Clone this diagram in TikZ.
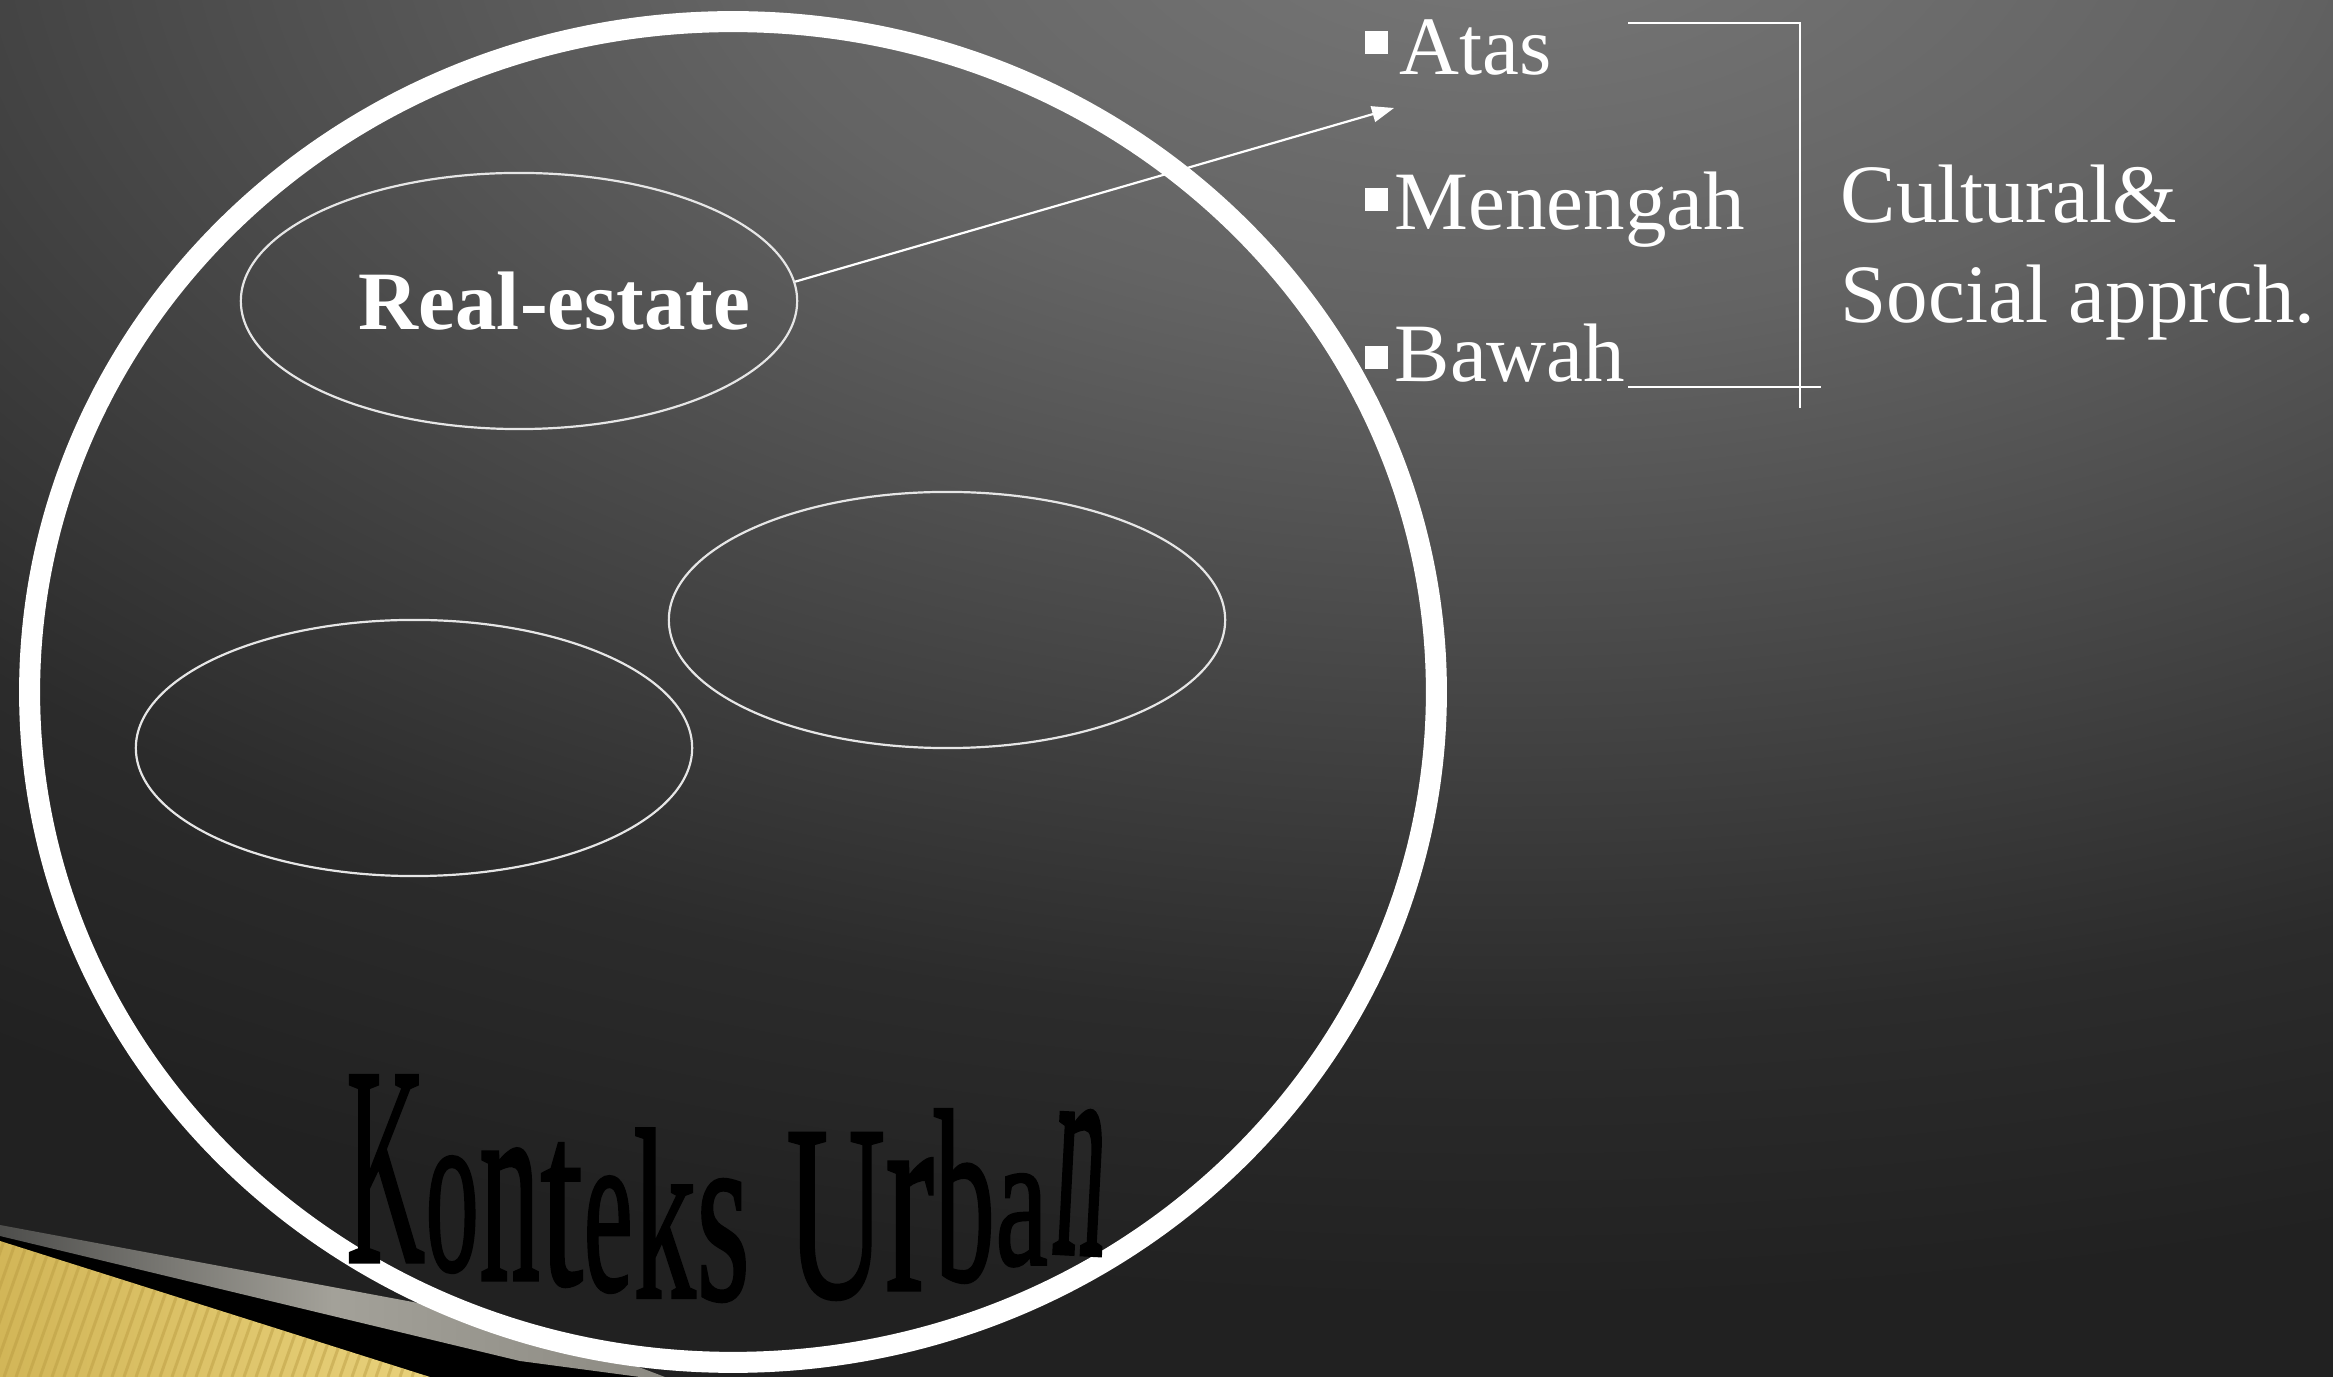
\documentclass[tikz,border=0pt]{standalone}
\usepackage{fontspec}
\setmainfont{Liberation Serif}
\newfontface\warpfont[FakeBold=1.6]{Liberation Serif}
\usepackage{graphicx}
\usetikzlibrary{shapes.geometric,arrows.meta}
\pgfdeclareradialshading{bgsh}{\pgfpointorigin}{rgb(0bp)=(.47,.47,.47); rgb(7.5bp)=(.39,.39,.39); rgb(20bp)=(.17,.17,.17); rgb(25bp)=(.13,.13,.13); rgb(50bp)=(.13,.13,.13)}
\definecolor{bgout}{gray}{0.13}
\definecolor{goldA}{HTML}{D2B658}
\definecolor{goldB}{HTML}{E9D27C}
\definecolor{goldS}{HTML}{B89A40}
\definecolor{silA}{HTML}{4E4E4C}
\definecolor{silB}{HTML}{A3A199}
\definecolor{silC}{HTML}{8C8A82}
\definecolor{ellc}{HTML}{E6E6E6}
\begin{document}
\begin{tikzpicture}[x=0.01cm,y=-0.01cm,
  txt/.style={text=white, inner sep=0, font=\fontsize{23.6}{28}\selectfont},
  oval/.style={ellipse, draw=ellc, line width=0.022cm, inner sep=0, minimum width=5.56cm, minimum height=2.56cm},
  ring/.style={ellipse, draw=white, line width=0.21cm, inner sep=0, minimum width=14.06cm, minimum height=13.4cm},
  bulletbox/.style={fill=white, inner sep=0, minimum size=0.23cm},
  thinw/.style={draw=white, line width=0.022cm},
  arr/.style={draw=white, line width=0.022cm, -{Triangle[length=0.22cm,width=0.16cm]}},
  wl/.style={inner sep=0, anchor=south west, text=black, font=\fontsize{20}{20}\warpfont}]
\useasboundingbox (0,0) rectangle (2333,1377);
% background
\begin{scope}
\clip (0,0) rectangle (2333,1377);
\fill[bgout] (0,0) rectangle (2333,1377);
\shade[shading=bgsh] (1500,-100) ellipse [x radius=2600, y radius=1400];
% bottom-left decoration
\fill[black] (0,1232) -- (665,1377) -- (0,1377) -- cycle;
\begin{scope}
\clip (0,1241) -- (430,1377) -- (0,1377) -- cycle;
\shade[left color=goldA, right color=goldB] (0,1230) rectangle (440,1377);
\foreach \i in {-200,-188,...,460} \draw[goldS, line width=0.03cm, opacity=0.45] (\i,1377) -- ++(60,-170);
\end{scope}
\shade[left color=silA, right color=silC, middle color=silB] (0,1225) -- (520,1322) -- (665,1377) -- (640,1377) -- (520,1361) -- (0,1236) -- cycle;
\end{scope}
% big ring
\node[ring] (ctx) at (733,692) {};
% ovals
\node[oval] (e1) at (519,301) {};
\node[oval] (e2) at (947,620) {};
\node[oval] (e3) at (414,748) {};
\node[txt, font=\fontsize{23.6}{28}\selectfont\bfseries, anchor=base west] (re) at (358,330) {Real-estate};
% arrow
\coordinate (tip) at (1394,108);
\draw[arr] (e1.4) -- (tip);
% bullets and list
\node[bulletbox] (b1) at (1376,43) {};
\node[bulletbox] (b2) at (1376,200) {};
\node[bulletbox] (b3) at (1376,358) {};
\node[txt, anchor=base west] (atas) at (1399,75) {Atas};
\node[txt, anchor=base west] (men) at (1394,230) {Menengah};
\node[txt, anchor=base west] (baw) at (1394,382) {Bawah};
% bracket
\coordinate (bt1) at (1628,23);
\coordinate (bt2) at (1800,23);
\coordinate (bv) at (1800,408);
\coordinate (bl1) at (1628,387);
\coordinate (bl2) at (1821,387);
\draw[thinw] (bt1) -- (bt2) -- (bv);
\draw[thinw] (bl1) -- (bl2);
\node[txt, anchor=base west] (cul) at (1840,223) {Cultural\&};
\node[txt, anchor=base west] (soc) at (1840,323) {Social apprch.};
% warped title
\node[wl] (k1) at (346,1262) {\resizebox{0.78cm}{1.85cm}{K}};
\node[wl] (k2) at (425,1273) {\resizebox{0.53cm}{1.13cm}{o}};
\node[wl] (k3) at (479,1280) {\resizebox{0.60cm}{1.30cm}{n}};
\node[wl] (k4) at (540,1287) {\resizebox{0.42cm}{1.40cm}{t}};
\node[wl] (k5) at (583,1293) {\resizebox{0.49cm}{1.13cm}{e}};
\node[wl] (k6) at (633,1298) {\resizebox{0.62cm}{1.68cm}{k}};
\node[wl] (k7) at (696,1302) {\resizebox{0.53cm}{1.19cm}{s}};
\node[wl] (k8) at (786,1300) {\resizebox{0.98cm}{1.63cm}{U}};
\node[wl] (k9) at (885,1290) {\resizebox{0.48cm}{1.30cm}{r}};
\node[wl] (k10) at (934,1283) {\resizebox{0.60cm}{1.70cm}{b}};
\node[wl] (k11) at (995,1267) {\resizebox{0.52cm}{0.90cm}{a}};
\node[wl, rotate=-3] (k12) at (1050,1253) {\resizebox{0.52cm}{1.43cm}{n}};
\end{tikzpicture}
\end{document}
